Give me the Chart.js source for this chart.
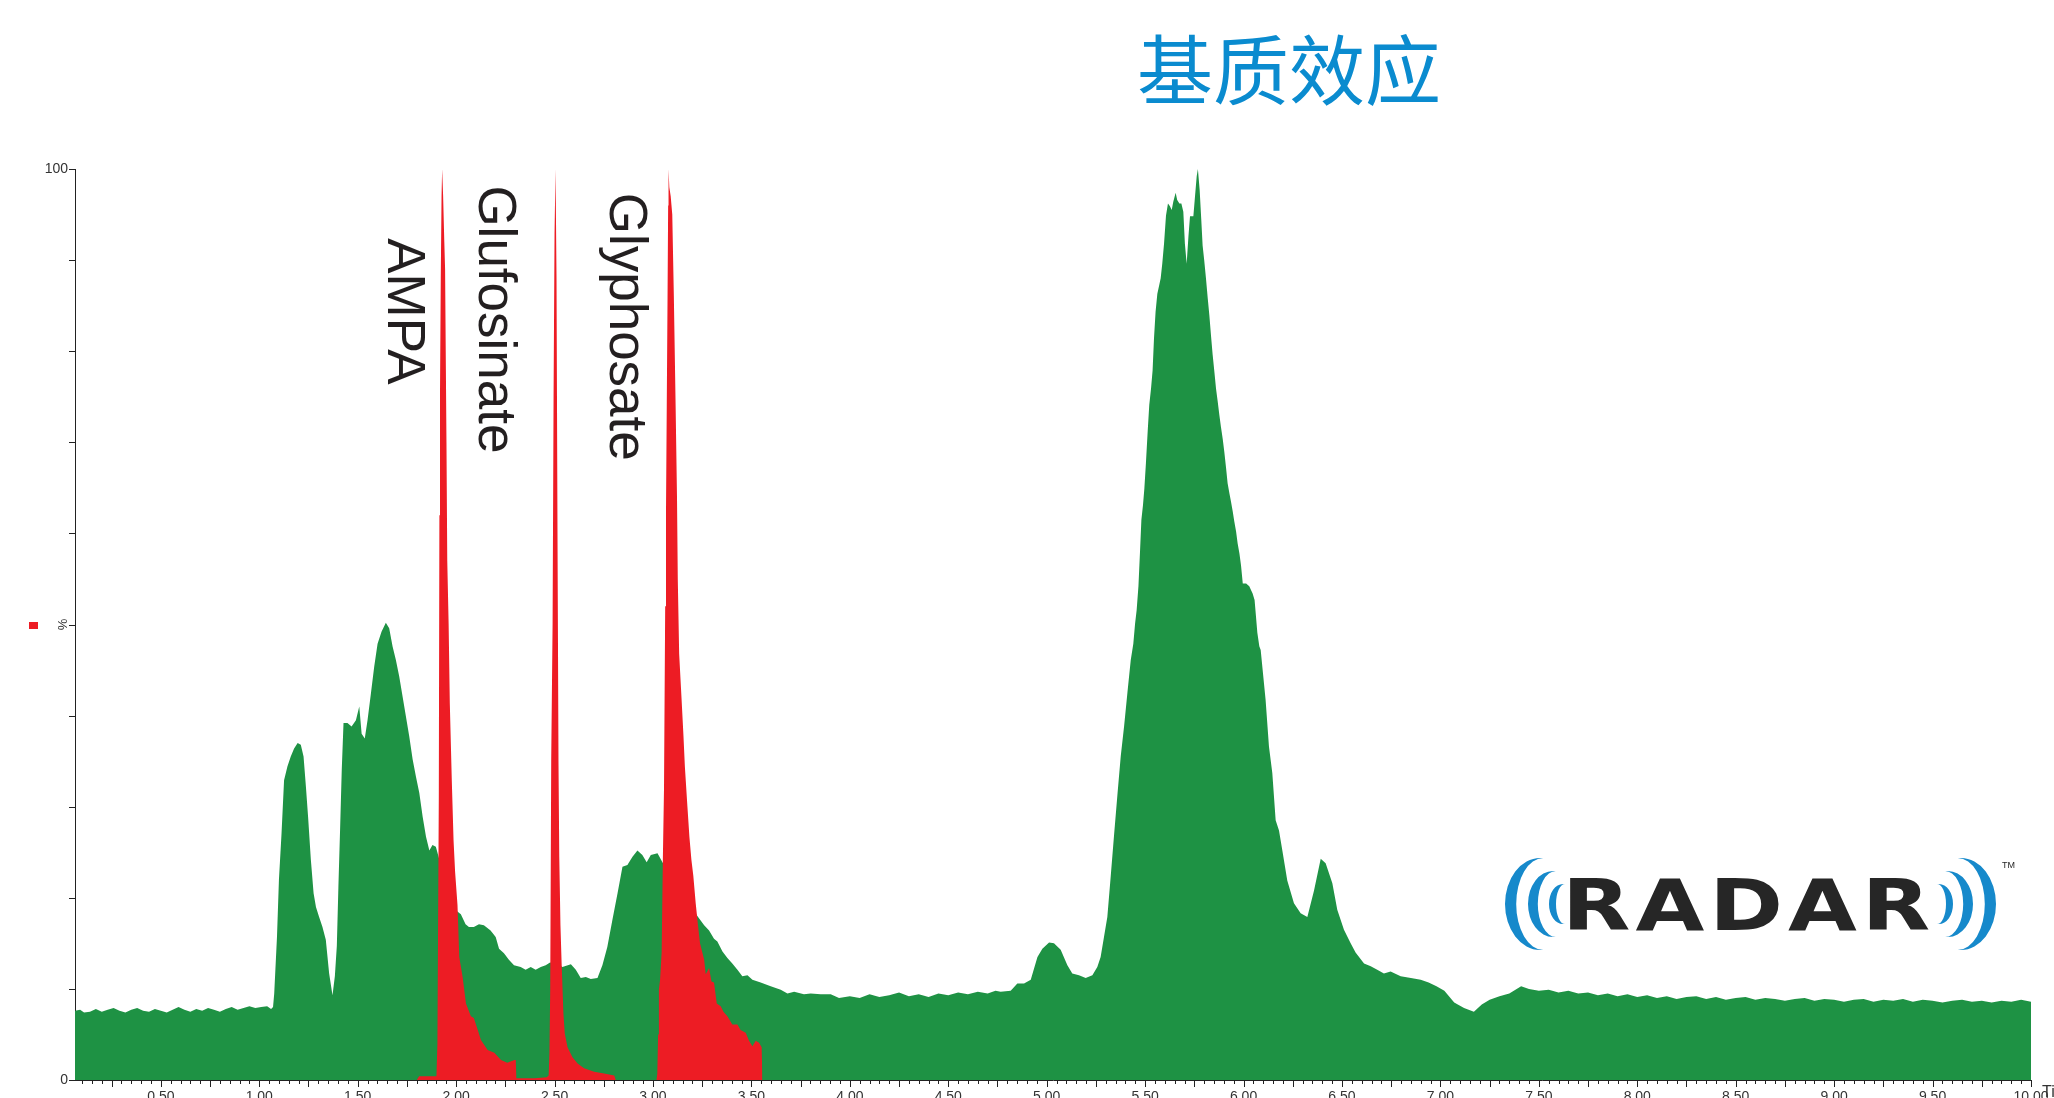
<!DOCTYPE html>
<html>
<head>
<meta charset="utf-8">
<title>基质效应</title>
<script src="https://cdn.jsdelivr.net/npm/chart.js@4.4.1/dist/chart.umd.min.js"></script>
<style>
  html, body { margin: 0; padding: 0; background: #ffffff; overflow: hidden; }
  #wrap { position: relative; width: 2054px; height: 1098px; }
  canvas { display: block; }
</style>
</head>
<body>
<div id="wrap"><canvas id="chart" width="2054" height="1098"></canvas></div>
<script>
// Retention time (min) and relative intensity (%) of the matrix trace
const greenTime = [
  0.064, 0.09, 0.11, 0.14, 0.17, 0.20, 0.23, 0.26, 0.29, 0.32, 0.35, 0.38, 0.41, 0.44, 0.47, 0.50,
  0.53, 0.56, 0.59, 0.62, 0.65, 0.68, 0.71, 0.74, 0.77, 0.80, 0.83, 0.86, 0.89, 0.92, 0.95, 0.98,
  1.01, 1.04, 1.06, 1.07, 1.076, 1.09, 1.10, 1.113, 1.126, 1.143, 1.16, 1.177, 1.195, 1.211, 1.225,
  1.237, 1.248, 1.262, 1.276, 1.288, 1.304, 1.321, 1.338, 1.355, 1.372, 1.384, 1.394, 1.402, 1.411,
  1.419, 1.428, 1.448, 1.469, 1.491, 1.508, 1.52, 1.536, 1.55, 1.567, 1.584, 1.601, 1.621, 1.643,
  1.66, 1.677, 1.694, 1.711, 1.728, 1.745, 1.762, 1.779, 1.796, 1.813, 1.83, 1.847, 1.864, 1.88,
  1.897, 1.93, 1.96, 2.00, 2.024, 2.048, 2.065, 2.09, 2.116, 2.141, 2.175, 2.201, 2.218, 2.243,
  2.268, 2.294, 2.328, 2.353, 2.379, 2.404, 2.43, 2.455, 2.477, 2.51, 2.54, 2.583, 2.608, 2.633,
  2.659, 2.684, 2.718, 2.743, 2.768, 2.794, 2.82, 2.845, 2.87, 2.896, 2.921, 2.946, 2.968, 2.989,
  3.023, 3.048, 3.10, 3.15, 3.20, 3.229, 3.26, 3.285, 3.31, 3.327, 3.353, 3.378, 3.403, 3.429,
  3.454, 3.48, 3.505, 3.547, 3.598, 3.649, 3.683, 3.717, 3.767, 3.801, 3.852, 3.903, 3.945, 4.00,
  4.05, 4.10, 4.15, 4.20, 4.25, 4.30, 4.35, 4.40, 4.45, 4.50, 4.55, 4.60, 4.65, 4.70, 4.74, 4.766,
  4.817, 4.851, 4.885, 4.919, 4.953, 4.978, 5.012, 5.037, 5.071, 5.105, 5.13, 5.164, 5.198, 5.232,
  5.257, 5.274, 5.291, 5.308, 5.325, 5.343, 5.36, 5.376, 5.393, 5.41, 5.427, 5.44, 5.449, 5.457,
  5.466, 5.474, 5.481, 5.489, 5.496, 5.504, 5.513, 5.521, 5.53, 5.538, 5.545, 5.553, 5.562, 5.572,
  5.579, 5.587, 5.596, 5.606, 5.616, 5.626, 5.635, 5.643, 5.655, 5.663, 5.674, 5.684, 5.694, 5.702,
  5.711, 5.72, 5.728, 5.745, 5.753, 5.762, 5.768, 5.777, 5.785, 5.792, 5.80, 5.809, 5.818, 5.826,
  5.835, 5.843, 5.852, 5.86, 5.868, 5.877, 5.885, 5.894, 5.902, 5.911, 5.919, 5.928, 5.936, 5.945,
  5.953, 5.962, 5.97, 5.979, 5.987, 5.996, 6.013, 6.029, 6.046, 6.056, 6.063, 6.07, 6.08, 6.087,
  6.112, 6.129, 6.146, 6.163, 6.18, 6.197, 6.222, 6.256, 6.29, 6.324, 6.358, 6.392, 6.417, 6.451,
  6.476, 6.51, 6.544, 6.569, 6.612, 6.646, 6.679, 6.713, 6.747, 6.798, 6.85, 6.90, 6.94, 6.98,
  7.02, 7.07, 7.12, 7.17, 7.21, 7.25, 7.30, 7.35, 7.41, 7.45, 7.50, 7.55, 7.60, 7.65, 7.70, 7.75,
  7.80, 7.85, 7.90, 7.95, 8.00, 8.05, 8.10, 8.15, 8.20, 8.25, 8.30, 8.35, 8.40, 8.45, 8.50, 8.55,
  8.60, 8.65, 8.70, 8.75, 8.80, 8.85, 8.90, 8.95, 9.00, 9.05, 9.10, 9.15, 9.20, 9.25, 9.30, 9.35,
  9.40, 9.45, 9.50, 9.55, 9.60, 9.65, 9.70, 9.75, 9.80, 9.85, 9.90, 9.95, 10.00
];
const greenPct = [
  7.6, 7.7, 7.4, 7.5, 7.8, 7.5, 7.7, 7.9, 7.6, 7.4, 7.7, 7.9, 7.6, 7.5, 7.8, 7.6,
  7.4, 7.7, 8.0, 7.7, 7.5, 7.8, 7.6, 7.9, 7.7, 7.5, 7.8, 8.0, 7.7, 7.9, 8.1, 7.9,
  8.0, 8.1, 7.8, 8.0, 9.5, 15.7, 22.0, 27.0, 32.9, 34.4, 35.5, 36.4, 37.0, 36.8, 35.5,
  32.2, 28.9, 24.2, 20.5, 19.0, 17.9, 16.8, 15.4, 11.7, 9.3, 11.4, 14.7, 21.2, 27.8,
  34.0, 39.2, 39.2, 38.8, 39.5, 41.0, 38.0, 37.5, 39.5, 42.4, 45.4, 47.9, 49.2, 50.2,
  49.6, 47.6, 46.1, 44.3, 42.1, 39.9, 37.7, 35.2, 33.3, 31.5, 28.9, 26.7, 25.2, 25.8,
  25.6, 23.0, 21.0, 18.6, 18.2, 17.1, 16.8, 16.8, 17.1, 17.0, 16.4, 15.7, 14.4, 13.9,
  13.2, 12.6, 12.4, 12.1, 12.4, 12.1, 12.4, 12.6, 12.9, 12.8, 12.4, 12.7, 12.1, 11.2,
  11.3, 11.1, 11.2, 12.6, 14.6, 17.6, 20.5, 23.4, 23.6, 24.5, 25.2, 24.7, 23.9, 24.7,
  24.9, 23.9, 22.0, 20.0, 18.8, 17.9, 17.0, 16.4, 15.5, 15.2, 14.1, 13.4, 12.8, 12.1,
  11.4, 11.5, 11.0, 10.7, 10.3, 9.9, 9.5, 9.7, 9.4, 9.5, 9.4, 9.4, 9.0, 9.2,
  9.0, 9.4, 9.1, 9.3, 9.6, 9.2, 9.4, 9.1, 9.5, 9.3, 9.6, 9.4, 9.7, 9.5, 9.8, 9.7,
  9.8, 10.6, 10.6, 11.0, 13.5, 14.4, 15.1, 15.0, 14.3, 12.6, 11.7, 11.5, 11.2, 11.5,
  12.4, 13.5, 15.7, 17.9, 22.3, 27.1, 31.5, 35.5, 38.8, 42.5, 46.1, 47.9, 50.1, 51.6,
  54.2, 58.0, 61.5, 63.1, 64.9, 67.7, 71.2, 74.1, 75.9, 77.9, 81.4, 84.3, 86.3, 87.3,
  88.0, 89.6, 91.8, 94.9, 96.2, 95.9, 95.5, 96.4, 97.4, 96.6, 96.2, 96.2, 95.3, 91.8,
  89.6, 92.6, 94.8, 94.8, 96.9, 99.2, 100.0, 97.7, 94.5, 91.6, 90.0, 88.0, 85.8, 84.0,
  81.6, 79.6, 77.7, 75.9, 74.6, 73.0, 71.7, 70.4, 69.0, 67.2, 65.5, 64.4, 63.5, 62.4,
  61.3, 60.2, 58.9, 57.8, 56.5, 54.5, 54.5, 54.2, 53.4, 52.7, 50.9, 49.1, 47.6, 47.2,
  41.7, 36.6, 33.7, 28.5, 27.4, 25.2, 21.9, 19.4, 18.3, 17.9, 20.8, 24.3, 23.8, 21.6,
  18.7, 16.5, 15.0, 14.0, 12.8, 12.5, 12.1, 11.7, 11.9, 11.4, 11.2, 11.0, 10.7, 10.3,
  9.8, 8.5, 7.9, 7.5, 8.3, 8.8, 9.2, 9.5, 10.3, 10.0, 9.8, 9.9, 9.6, 9.8, 9.5, 9.6,
  9.3, 9.5, 9.2, 9.4, 9.1, 9.3, 9.0, 9.2, 8.9, 9.1, 9.2, 8.9, 9.1, 8.8, 9.0, 9.1,
  8.8, 9.0, 8.9, 8.7, 8.9, 9.0, 8.7, 8.9, 8.8, 8.6, 8.8, 8.9, 8.6, 8.8, 8.7, 8.9,
  8.6, 8.8, 8.7, 8.5, 8.7, 8.8, 8.6, 8.7, 8.5, 8.7, 8.6, 8.8, 8.6
];

// Retention time (min) and relative intensity (%) of the standards trace
const redTime = [
  1.80, 1.812, 1.90, 1.905, 1.912, 1.915, 1.918, 1.922, 1.926, 1.929, 1.934, 1.940, 1.944, 1.948,
  1.951, 1.955, 1.962, 1.968, 1.978, 1.987, 1.995, 2.007, 2.016, 2.033, 2.05, 2.075, 2.09, 2.11,
  2.126, 2.16, 2.194, 2.228, 2.26, 2.296, 2.303, 2.306, 2.40, 2.46, 2.470, 2.474, 2.478, 2.483,
  2.490, 2.495, 2.500, 2.505, 2.510, 2.515, 2.520, 2.524, 2.530, 2.536, 2.545, 2.552, 2.566,
  2.591, 2.617, 2.650, 2.701, 2.752, 2.803, 2.811,
  3.018, 3.022, 3.026, 3.030, 3.036, 3.044, 3.050, 3.056, 3.062, 3.066, 3.070, 3.074, 3.077,
  3.079, 3.083, 3.090, 3.098, 3.106, 3.115, 3.122, 3.126, 3.133, 3.145, 3.155, 3.162, 3.175,
  3.185, 3.195, 3.205, 3.217, 3.229, 3.239, 3.260, 3.268, 3.285, 3.297, 3.310, 3.324, 3.344,
  3.358, 3.378, 3.403, 3.429, 3.445, 3.471, 3.488, 3.505, 3.522, 3.539, 3.552, 3.556
];
const redPct = [
  0, 0.4, 0.4, 4, 31, 62, 75, 88, 97, 100, 97, 92, 89, 78,
  70, 57, 50, 41.3, 32.9, 26.3, 22.8, 19.2, 13.5, 11.3, 8.4, 7.0, 6.8, 5.5,
  4.4, 3.3, 3.0, 2.2, 1.9, 2.2, 2.2, 0.2, 0.2, 0.3, 0.5, 3, 10, 35,
  50, 75, 93, 100, 88, 60, 35, 24.5, 17, 12.8, 7.3, 5.1, 3.6,
  2.5, 1.8, 1.3, 0.9, 0.7, 0.5, 0,
  0, 0.7, 5, 9.9, 11, 14, 24, 32, 52, 62, 74, 86, 96,
  100, 98, 97, 95, 86, 74, 64, 55, 46.8, 41.9, 37.7, 34.4, 30,
  26.7, 24.2, 22.4, 19.4, 16.9, 15.0, 13.2, 11.6, 12.3, 10.8, 10.7, 8.4, 8.1,
  7.5, 7.0, 6.1, 6.1, 5.5, 5.2, 4.3, 3.7, 4.3, 4.1, 3.6, 0
];

// Axis tick labels (min)
const xTickLabels = ['0.50', '1.00', '1.50', '2.00', '2.50', '3.00', '3.50', '4.00', '4.50', '5.00',
  '5.50', '6.00', '6.50', '7.00', '7.50', '8.00', '8.50', '9.00', '9.50', '10.00'];
const yTickLabels = ['0', '100'];

// Compound names and where their vertical captions start (min, %)
const peakNames = ['AMPA', 'Glufosinate', 'Glyphosate'];
const peakLabelTime = [1.653, 2.115, 2.781];
const peakLabelTop = [92.4, 98.2, 97.4];

const GREEN = '#1e9244';
const RED = '#ed1c24';

const toPoints = (ts, vs) => ts.map((t, i) => ({ x: t, y: vs[i] }));

// Axis ticks, labels, captions, title and logo drawn around the plot
const decor = {
  id: 'decor',
  afterDraw(chart) {
    const ctx = chart.ctx;
    const xs = chart.scales.x;
    const ys = chart.scales.y;
    const area = chart.chartArea;
    ctx.save();

    // x ticks: minor every 0.05 min, longer every 0.25 min
    ctx.strokeStyle = '#222';
    ctx.lineWidth = 1;
    for (let k = 2; k <= 200; k++) {
      const t = k * 0.05;
      if (t < xs.min) continue;
      const px = Math.round(xs.getPixelForValue(t)) + 0.5;
      const len = (k % 5 === 0) ? 7 : 4;
      ctx.beginPath();
      ctx.moveTo(px, area.bottom);
      ctx.lineTo(px, area.bottom + len);
      ctx.stroke();
    }
    ctx.fillStyle = '#333';
    ctx.font = '14px "Liberation Sans", Arial, sans-serif';
    ctx.textAlign = 'center';
    ctx.textBaseline = 'top';
    xTickLabels.forEach(lab => {
      ctx.fillText(lab, xs.getPixelForValue(parseFloat(lab)), area.bottom + 10);
    });
    ctx.textAlign = 'left';
    ctx.font = '16px "Liberation Sans", Arial, sans-serif';
    ctx.fillText('Time', area.right + 11, area.bottom + 5);

    // y ticks every 10 %
    for (let v = 0; v <= 100; v += 10) {
      const py = Math.round(ys.getPixelForValue(v)) + 0.5;
      ctx.beginPath();
      ctx.moveTo(area.left - 6, py);
      ctx.lineTo(area.left, py);
      ctx.stroke();
    }
    ctx.font = '14px "Liberation Sans", Arial, sans-serif';
    ctx.textAlign = 'right';
    ctx.textBaseline = 'middle';
    yTickLabels.forEach(lab => {
      ctx.fillText(lab, area.left - 7, ys.getPixelForValue(parseFloat(lab)));
    });
    const midY = ys.getPixelForValue(50);
    ctx.save();
    ctx.translate(area.left - 12, midY);
    ctx.rotate(-Math.PI / 2);
    ctx.textAlign = 'center';
    ctx.textBaseline = 'middle';
    ctx.font = '13px "Liberation Sans", Arial, sans-serif';
    ctx.fillText('%', 0, 0);
    ctx.restore();
    ctx.fillStyle = RED;
    ctx.fillRect(29, Math.round(midY) - 3, 9, 7);

    // vertical compound captions
    ctx.fillStyle = '#231f20';
    ctx.font = '53px "Liberation Sans", Arial, sans-serif';
    ctx.textAlign = 'left';
    ctx.textBaseline = 'alphabetic';
    peakNames.forEach((name, i) => {
      ctx.save();
      ctx.translate(xs.getPixelForValue(peakLabelTime[i]), ys.getPixelForValue(peakLabelTop[i]));
      ctx.rotate(Math.PI / 2);
      ctx.fillText(name, 0, 0);
      ctx.restore();
    });

    // title
    ctx.fillStyle = '#0a8bcf';
    ctx.font = '76px "Noto Sans CJK SC", sans-serif';
    ctx.textAlign = 'center';
    ctx.textBaseline = 'middle';
    ctx.fillText('基质效应', 1289, 70);

    // RADAR logo
    const cy = 904;
    const crescent = (cx, rx, ry, thick, left) => {
      ctx.beginPath();
      if (left) {
        ctx.ellipse(cx, cy, rx, ry, 0, Math.PI / 2, Math.PI * 1.5, false);
        ctx.ellipse(cx + thick * 0.4, cy, rx - thick, ry, 0, Math.PI * 1.5, Math.PI / 2, true);
      } else {
        ctx.ellipse(cx, cy, rx, ry, 0, -Math.PI / 2, Math.PI / 2, false);
        ctx.ellipse(cx - thick * 0.4, cy, rx - thick, ry, 0, Math.PI / 2, -Math.PI / 2, true);
      }
      ctx.closePath();
      ctx.fill();
    };
    ctx.fillStyle = '#1689cb';
    crescent(1540, 35, 46, 8, true);
    crescent(1553, 25, 33, 7, true);
    crescent(1563, 14, 20, 5, true);
    crescent(1961, 35, 46, 8, false);
    crescent(1948, 25, 33, 7, false);
    crescent(1939, 14, 20, 5, false);

    ctx.fillStyle = '#262626';
    ctx.font = 'bold 72px "DejaVu Sans", sans-serif';
    ctx.textAlign = 'left';
    ctx.textBaseline = 'alphabetic';
    ctx.save();
    ctx.translate(1562, 930);
    ctx.scale(1.235, 1);
    ctx.letterSpacing = '4px';
    ctx.fillText('RADAR', 0, 0);
    ctx.restore();
    ctx.font = '9px "Liberation Sans", Arial, sans-serif';
    ctx.fillText('TM', 2002, 868);

    ctx.restore();
  }
};

new Chart(document.getElementById('chart'), {
  type: 'line',
  data: {
    datasets: [
      {
        label: 'Standards',
        data: toPoints(redTime, redPct),
        backgroundColor: RED,
        borderColor: RED,
        borderWidth: 0,
        fill: 'origin',
        pointRadius: 0,
        tension: 0
      },
      {
        label: 'Matrix',
        data: toPoints(greenTime, greenPct),
        backgroundColor: GREEN,
        borderColor: GREEN,
        borderWidth: 0,
        fill: 'origin',
        pointRadius: 0,
        tension: 0
      }
    ]
  },
  options: {
    responsive: false,
    animation: false,
    devicePixelRatio: 1,
    layout: { padding: { top: 169, right: 23, left: 0, bottom: 0 } },
    scales: {
      x: {
        type: 'linear',
        min: 0.064,
        max: 10,
        ticks: { display: false },
        grid: { display: false },
        border: { display: true, color: '#222', width: 1 },
        afterFit(s) { s.height = 18; }
      },
      y: {
        min: 0,
        max: 100,
        ticks: { display: false },
        grid: { display: false },
        border: { display: true, color: '#222', width: 1 },
        afterFit(s) { s.width = 75; }
      }
    },
    plugins: {
      legend: { display: false },
      tooltip: { enabled: false },
      filler: { propagate: false }
    }
  },
  plugins: [decor]
});
</script>
</body>
</html>
